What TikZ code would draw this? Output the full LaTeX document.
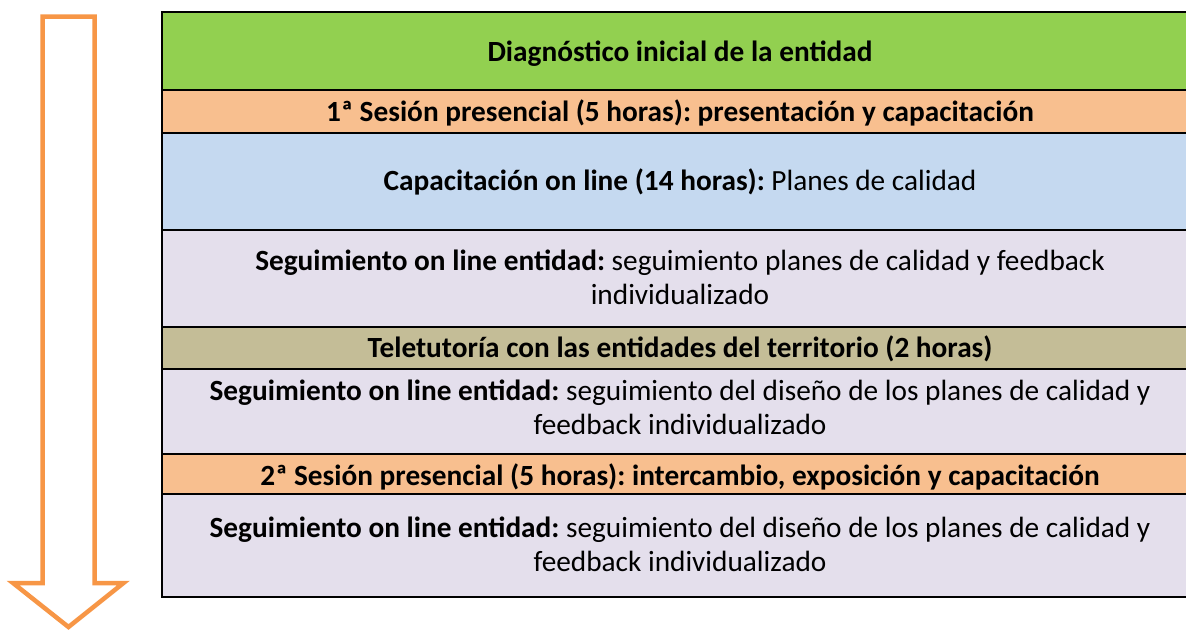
\documentclass[tikz,border=0pt]{standalone}
\usepackage{fontspec}
\setmainfont{Carlito}
\frenchspacing
\definecolor{cgreen}{HTML}{92D050}
\definecolor{corange}{HTML}{F8BF8F}
\definecolor{cblue}{HTML}{C5D9F0}
\definecolor{clav}{HTML}{E4DFEC}
\definecolor{ctan}{HTML}{C4BD97}
\definecolor{carrow}{HTML}{F79646}
\begin{document}
\begin{tikzpicture}[x=1pt,y=-1pt,
  rowbox/.style={draw=black, line width=2pt, anchor=north west, minimum width=1038pt,
    inner sep=0pt, outer sep=0pt},
  rowtext/.style={anchor=base, inner sep=0pt, align=center,
    font=\frenchspacing\fontsize{29.3}{34}\selectfont}]
\useasboundingbox (0,0) rectangle (1186,632);
\begin{scope}
\clip (0,0) rectangle (1186,632);
\node[rowbox, fill=cgreen, minimum height=78pt] (r1) at (162,12) {};
\node[rowbox, fill=corange, minimum height=43pt] (r2) at (162,90) {};
\node[rowbox, fill=cblue, minimum height=97pt] (r3) at (162,133) {};
\node[rowbox, fill=clav, minimum height=97pt] (r4) at (162,230) {};
\node[rowbox, fill=ctan, minimum height=42pt] (r5) at (162,327) {};
\node[rowbox, fill=clav, minimum height=85pt] (r6) at (162,369) {};
\node[rowbox, fill=corange, minimum height=40pt] (r7) at (162,454) {};
\node[rowbox, fill=clav, minimum height=103pt] (r8) at (162,494) {};
\end{scope}
\node[rowtext] (t1) at (680,61) {\textbf{Diagnóstico inicial de la entidad}};
\node[rowtext] (t2) at (680,121.5) {\textbf{1ª Sesión presencial (5 horas): presentación y capacitación}};
\node[rowtext] (t3) at (680,190) {\textbf{Capacitación on line (14 horas):} Planes de calidad};
\node[rowtext] (t4) at (680,304) {\textbf{Seguimiento on line entidad:} seguimiento planes de calidad y feedback\\individualizado};
\node[rowtext] (t5) at (680,357.5) {\textbf{Teletutoría con las entidades del territorio (2 horas)}};
\node[rowtext] (t6) at (680,434) {\textbf{Seguimiento on line entidad:} seguimiento del diseño de los planes de calidad y\\feedback individualizado};
\node[rowtext] (t7) at (680,485) {\textbf{2ª Sesión presencial (5 horas): intercambio, exposición y capacitación}};
\node[rowtext] (t8) at (680,571) {\textbf{Seguimiento on line entidad:} seguimiento del diseño de los planes de calidad y\\feedback individualizado};
\draw[carrow, line width=4.5pt, fill=white, line join=miter]
  (42.5,16.5) -- (94.5,16.5) -- (94.5,583) -- (123.5,583) -- (68.5,627) -- (13,583) -- (42.5,583) -- cycle;
\end{tikzpicture}
\end{document}
